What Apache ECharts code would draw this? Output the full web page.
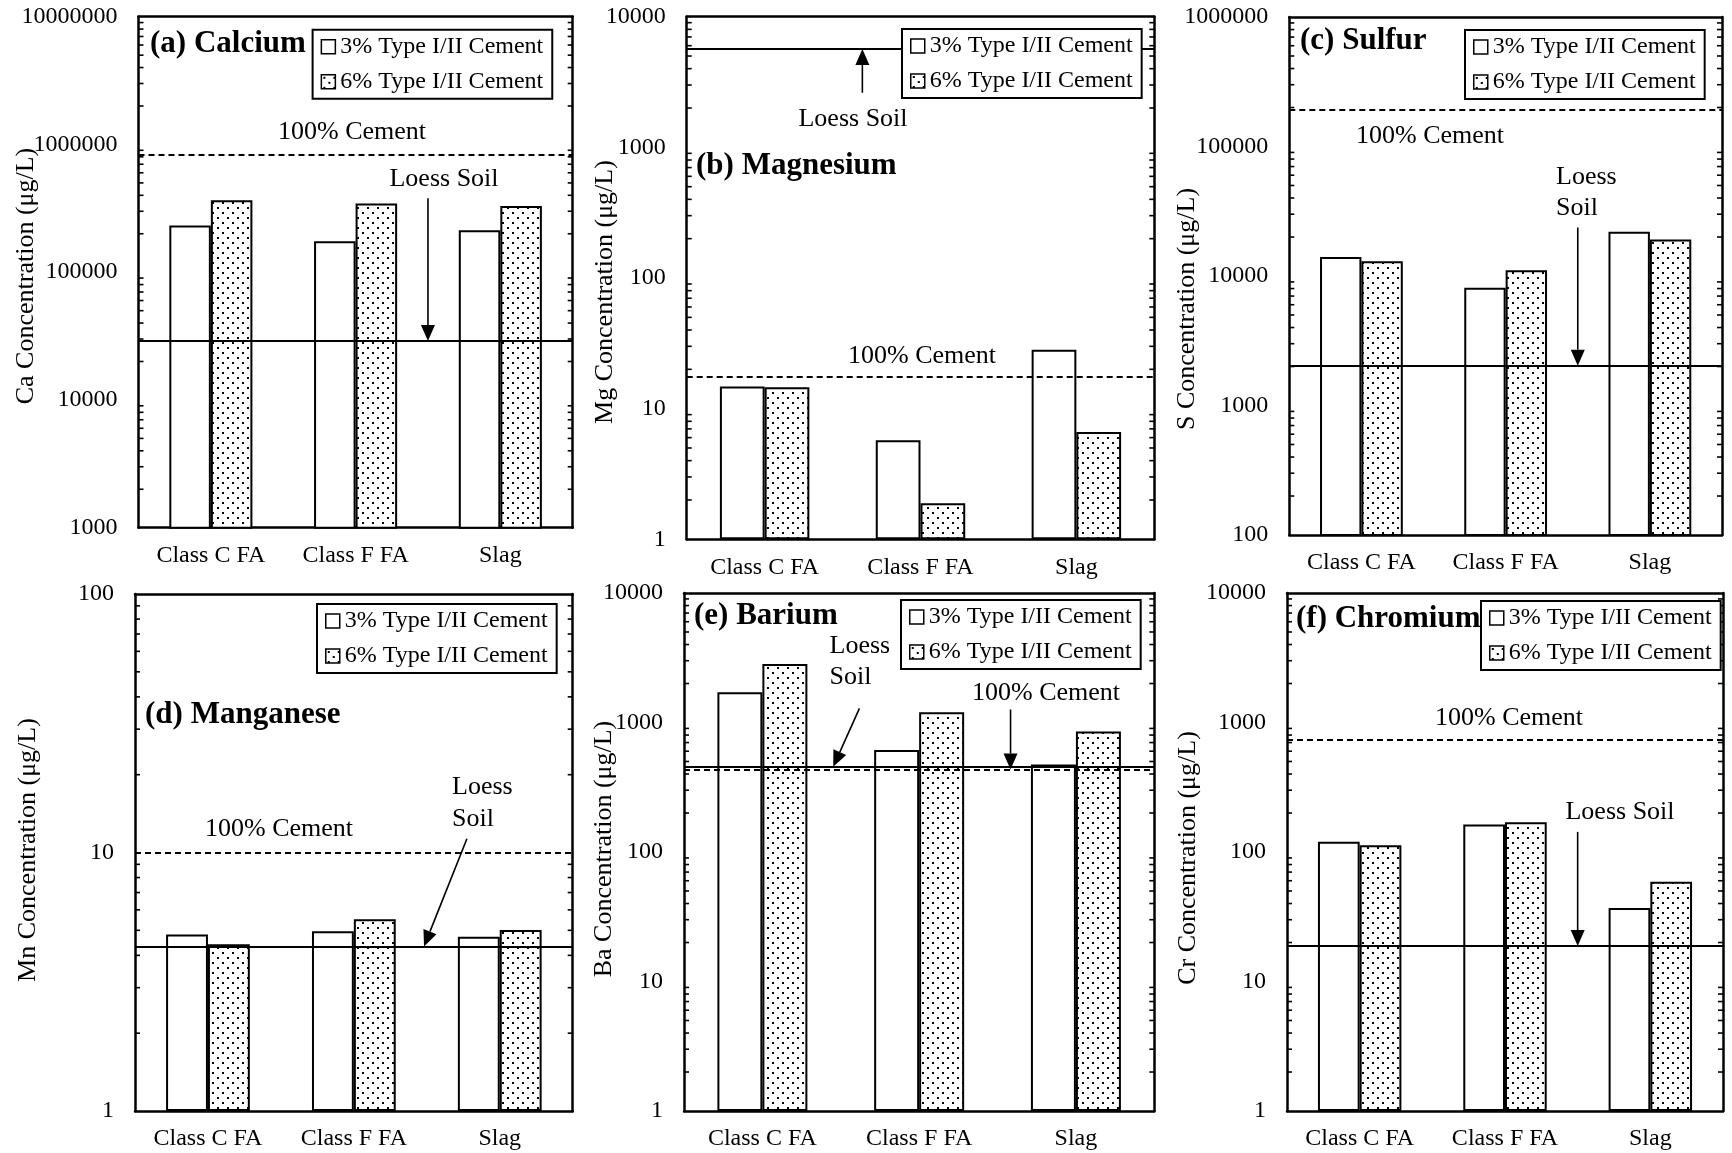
<!DOCTYPE html>
<html>
<head>
<meta charset="utf-8">
<script src="https://cdn.jsdelivr.net/npm/echarts@6/dist/echarts.min.js"></script>
<style>
  html, body { margin: 0; padding: 0; background: #fff; }
  #chart { width: 1732px; height: 1153px; }
</style>
</head>
<body>
<div id="chart"></div>
<script>
// Leachate concentrations for three binder types, two cement contents (μg/L)
const categories = ['Class C FA', 'Class F FA', 'Slag'];
const seriesNames = ['3% Type I/II Cement', '6% Type I/II Cement'];

const caLow = [232000, 175000, 213000];
const caHigh = [366000, 345000, 330000];
const caCement = 830000;
const caLoess = 29000;

const mgLow = [14.8, 5.73, 28.2];
const mgHigh = [14.6, 1.89, 6.63];
const mgCement = 17.6;
const mgLoess = 5670;

const sLow = [14000, 8100, 22000];
const sHigh = [13000, 11100, 19100];
const sCement = 193000;
const sLoess = 2030;

const mnLow = [4.82, 4.96, 4.72];
const mnHigh = [4.42, 5.52, 5.01];
const mnCement = 10.0;
const mnLoess = 4.33;

const baLow = [1715, 613, 473];
const baHigh = [2835, 1200, 854];
const baCement = 433;
const baLoess = 456;

const crLow = [120, 163, 37];
const crHigh = [113, 170, 59];
const crCement = 740;
const crLoess = 18.8;

// axis ranges (log10)
const axisMin = [1e3, 1, 100, 1, 1, 1];
const axisMax = [1e7, 1e4, 1e6, 100, 1e4, 1e4];

const titles = ['(a) Calcium', '(b) Magnesium', '(c) Sulfur', '(d) Manganese', '(e) Barium', '(f) Chromium'];
const axisNames = ['Ca Concentration (μg/L)', 'Mg Concentration (μg/L)', 'S Concentration (μg/L)',
                   'Mn Concentration (μg/L)', 'Ba Concentration (μg/L)', 'Cr Concentration (μg/L)'];

const panels = [
  { low: caLow, high: caHigh, cement: caCement, loess: caLoess },
  { low: mgLow, high: mgHigh, cement: mgCement, loess: mgLoess },
  { low: sLow, high: sHigh, cement: sCement, loess: sLoess },
  { low: mnLow, high: mnHigh, cement: mnCement, loess: mnLoess },
  { low: baLow, high: baHigh, cement: baCement, loess: baLoess },
  { low: crLow, high: crHigh, cement: crCement, loess: crLoess }
];

// plot frames, axis-title centres and legend boxes
const layout = [
  { left: 138.5, top: 16.7, width: 434.2, height: 511,   name: [26, 276],   legend: [312.6, 29.8] },
  { left: 686.7, top: 16.7, width: 467.6, height: 522.6, name: [605, 292],  legend: [902, 29] },
  { left: 1289.3, top: 17,  width: 432.7, height: 518,   name: [1187, 309], legend: [1465, 30] },
  { left: 135,   top: 594,  width: 437.7, height: 517,   name: [28, 850],   legend: [317, 604] },
  { left: 684,   top: 593,  width: 470.3, height: 518,   name: [604, 849],  legend: [901, 600] },
  { left: 1287,  top: 593,  width: 436,   height: 518,   name: [1188, 858], legend: [1481, 601] }
];

const titlePos = [[150, 44], [696, 166], [1300, 41], [145, 715], [694, 616], [1296, 619]];

// free-standing labels: [text, x, y, align]
const notes = [
  ['100% Cement', 352, 132, 'center'], ['Loess Soil', 444, 179, 'center'],
  ['Loess Soil', 853, 119, 'center'], ['100% Cement', 922, 356, 'center'],
  ['100% Cement', 1430, 136, 'center'], ['Loess', 1556, 177, 'left'], ['Soil', 1556, 208, 'left'],
  ['100% Cement', 279, 829, 'center'], ['Loess', 452, 787, 'left'], ['Soil', 452, 819, 'left'],
  ['Loess', 829.5, 646, 'left'], ['Soil', 829.5, 677, 'left'], ['100% Cement', 1046, 693, 'center'],
  ['100% Cement', 1509, 718, 'center'], ['Loess Soil', 1620, 812, 'center']
];

// arrows in data units: panel, [category position, value] -> [category position, value]
const arrows = [
  [0, [2.0, 3.8e5], [2.0, caLoess]],
  [1, [1.127, 2620], [1.127, mgLoess]],
  [2, [2.0, 23700], [2.0, sLoess]],
  [3, [2.275, 11.3], [1.981, mnLoess]],
  [4, [1.119, 1285], [0.952, baLoess]],
  [4, [2.083, 1260], [2.083, baCement]],
  [5, [2.0, 143], [2.0, crLoess]]
];

const FONT = "'Liberation Serif', 'Times New Roman', serif";

// white tile with two offset black dots
function dotPattern() {
  const c = document.createElement('canvas');
  c.width = 10; c.height = 10;
  const g = c.getContext('2d');
  g.fillStyle = '#fff';
  g.fillRect(0, 0, 10, 10);
  g.fillStyle = '#000';
  g.fillRect(2, 2, 2, 2);
  g.fillRect(7, 7, 2, 2);
  return c;
}
const dots = { image: dotPattern(), repeat: 'repeat' };

function minorValues(min, max) {
  const out = [];
  for (let d = min; d < max * 0.999; d *= 10) {
    for (let k = 2; k <= 9; k++) out.push([0, d * k]);
  }
  return out;
}

const grid = [], xAxis = [], yAxis = [], series = [], legend = [];

panels.forEach((p, i) => {
  const L = layout[i];
  grid.push({ left: L.left, top: L.top, width: L.width, height: L.height, outerBoundsMode: 'none' });

  const axisLine = { show: true, lineStyle: { color: '#000', width: 2.5 } };
  xAxis.push({
    type: 'category', gridIndex: i, data: categories, position: 'bottom',
    axisLine, axisTick: { inside: true, length: 7, lineStyle: { color: '#000', width: 2 } },
    axisLabel: { margin: 16, fontSize: 24, fontFamily: FONT, color: '#000' }
  });
  xAxis.push({
    type: 'category', gridIndex: i, data: categories, position: 'top',
    axisLine, axisTick: { inside: true, length: 7, lineStyle: { color: '#000', width: 2 } },
    axisLabel: { show: false }
  });
  yAxis.push({
    type: 'log', logBase: 10, gridIndex: i, min: axisMin[i], max: axisMax[i], position: 'left',
    axisLine, splitLine: { show: false },
    axisTick: { inside: true, length: 9, lineStyle: { color: '#000', width: 2 } },
    axisLabel: { margin: 21, fontSize: 24, fontFamily: FONT, color: '#000',
                 formatter: v => String(Math.round(v)) }
  });
  yAxis.push({
    type: 'log', logBase: 10, gridIndex: i, min: axisMin[i], max: axisMax[i], position: 'right',
    axisLine, splitLine: { show: false },
    axisTick: { inside: true, length: 9, lineStyle: { color: '#000', width: 2 } },
    axisLabel: { show: false }
  });

  const xi = 2 * i, yi = 2 * i;
  series.push({
    name: seriesNames[0], type: 'bar', xAxisIndex: xi, yAxisIndex: yi, data: p.low,
    barWidth: '28.7%', barGap: '0%',
    itemStyle: { color: '#fff', borderColor: '#000', borderWidth: 2 },
    markLine: {
      silent: true, symbol: ['none', 'none'], label: { show: false },
      data: [
        { yAxis: p.cement, lineStyle: { color: '#000', width: 2, type: [6, 4] } },
        { yAxis: p.loess, lineStyle: { color: '#000', width: 2, type: 'solid' } }
      ]
    }
  });
  series.push({
    name: seriesNames[1], type: 'bar', xAxisIndex: xi, yAxisIndex: yi, data: p.high,
    barWidth: '28.7%', barGap: '0%',
    itemStyle: { color: dots, borderColor: '#000', borderWidth: 2 }
  });
  // minor ticks at 2..9 of every decade, on both vertical frame edges
  series.push({
    type: 'custom', xAxisIndex: xi, yAxisIndex: yi, silent: true, z: 5,
    data: minorValues(axisMin[i], axisMax[i]),
    renderItem: (params, api) => {
      const y = api.coord([0, api.value(1)])[1];
      const cs = params.coordSys;
      const st = { stroke: '#000', lineWidth: 1.6 };
      return {
        type: 'group',
        children: [
          { type: 'line', shape: { x1: cs.x, y1: y, x2: cs.x + 5, y2: y }, style: st },
          { type: 'line', shape: { x1: cs.x + cs.width - 5, y1: y, x2: cs.x + cs.width, y2: y }, style: st }
        ]
      };
    }
  });

  legend.push({
    data: seriesNames, orient: 'vertical', left: L.legend[0], top: L.legend[1], z: 30,
    icon: 'rect',
    padding: [5, 9, 5, 8], itemGap: 11, itemWidth: 14, itemHeight: 14,
    borderColor: '#000', borderWidth: 2, backgroundColor: '#fff', selectedMode: false,
    itemStyle: { borderColor: '#000', borderWidth: 1.5 },
    textStyle: { fontSize: 24, fontFamily: FONT, color: '#000' }
  });
});

const chart = echarts.init(document.getElementById('chart'), null, { renderer: 'canvas' });
chart.setOption({
  animation: false,
  backgroundColor: '#fff',
  grid, xAxis, yAxis, series, legend
});

// titles, axis names, labels and arrows, placed after the axes are laid out
const elements = [];
titles.forEach((t, i) => {
  elements.push({
    type: 'text', z: 20, x: titlePos[i][0], y: titlePos[i][1],
    style: { text: t, fontSize: 31, fontWeight: 'bold', fontFamily: FONT, fill: '#000',
             align: 'left', verticalAlign: 'middle', textAlign: 'left', textVerticalAlign: 'middle' }
  });
});
axisNames.forEach((t, i) => {
  elements.push({
    type: 'text', z: 20, x: layout[i].name[0], y: layout[i].name[1], rotation: Math.PI / 2,
    style: { text: t, fontSize: 26, fontFamily: FONT, fill: '#000',
             align: 'center', verticalAlign: 'middle', textAlign: 'center', textVerticalAlign: 'middle' }
  });
});
notes.forEach(n => {
  elements.push({
    type: 'text', z: 20, x: n[1], y: n[2],
    style: { text: n[0], fontSize: 26, fontFamily: FONT, fill: '#000',
             align: n[3], verticalAlign: 'middle', textAlign: n[3], textVerticalAlign: 'middle' }
  });
});

function toPixel(i, pt) {
  const c0 = chart.convertToPixel({ xAxisIndex: 2 * i }, 0);
  const c1 = chart.convertToPixel({ xAxisIndex: 2 * i }, 1);
  const w = c1 - c0;
  const x = c0 - w / 2 + pt[0] * w;
  const y = chart.convertToPixel({ yAxisIndex: 2 * i }, pt[1]);
  return [x, y];
}

arrows.forEach(a => {
  const p0 = toPixel(a[0], a[1]);
  const p1 = toPixel(a[0], a[2]);
  const dx = p1[0] - p0[0], dy = p1[1] - p0[1];
  const len = Math.hypot(dx, dy);
  const ux = dx / len, uy = dy / len;
  const head = 16, half = 7;
  const bx = p1[0] - ux * head, by = p1[1] - uy * head;
  elements.push({
    type: 'line', z: 20,
    shape: { x1: p0[0], y1: p0[1], x2: bx, y2: by },
    style: { stroke: '#000', lineWidth: 1.6 }
  });
  elements.push({
    type: 'polygon', z: 20,
    shape: { points: [[p1[0], p1[1]], [bx - uy * half, by + ux * half], [bx + uy * half, by - ux * half]] },
    style: { fill: '#000' }
  });
});

chart.setOption({ graphic: { elements } });
</script>
</body>
</html>
